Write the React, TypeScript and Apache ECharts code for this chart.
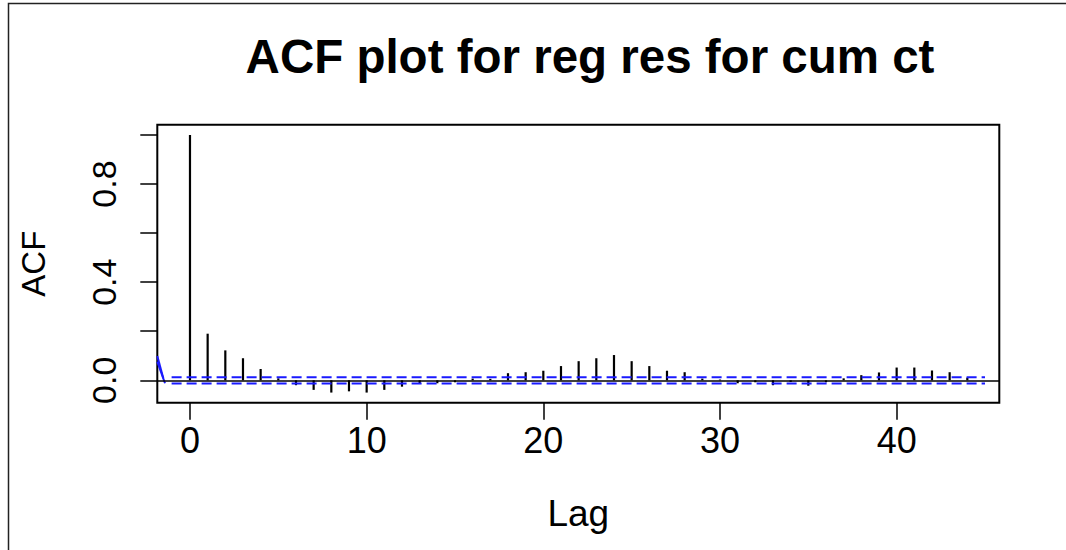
import React, { useEffect, useRef } from "react";
import * as echarts from "echarts";

const lags = [0, 1, 2, 3, 4, 5, 6, 7, 8, 9, 10, 11, 12, 13, 14, 15, 16, 17, 18, 19, 20, 21, 22, 23, 24, 25, 26, 27, 28, 29, 30, 31, 32, 33, 34, 35, 36, 37, 38, 39, 40, 41, 42, 43, 44];
const acfValues = [1.0, 0.19, 0.122, 0.09, 0.046, 0.008, -0.02, -0.039, -0.05, -0.045, -0.05, -0.039, -0.026, -0.015, -0.012, -0.008, 0.007, 0.006, 0.029, 0.033, 0.039, 0.058, 0.078, 0.09, 0.103, 0.078, 0.058, 0.039, 0.033, 0.007, 0.003, -0.012, -0.008, -0.02, -0.007, -0.022, -0.008, 0.008, 0.021, 0.032, 0.052, 0.052, 0.04, 0.033, 0.011];
const yTicks = [0, 0.2, 0.4, 0.6, 0.8, 1.0];
const yTickLabels = [0, 0.4, 0.8];
const xTicks = [0, 10, 20, 30, 40];
const ciUpper = 0.0128;
const ciLower = -0.0128;
const ciStart = -1.04;
const ciEnd = 45.0;
const strayUpper = [[-1.85, 0.099], [-1.51, 0.008]];
const strayLower = [[-1.85, 0.076], [-1.415, -0.012]];

const FONT = "'Liberation Sans', Arial, Helvetica, sans-serif";

export default function App() {
  const ref = useRef<HTMLDivElement>(null);
  useEffect(() => {
    if (!ref.current) return;
    const chart = echarts.init(ref.current, undefined, { renderer: "svg" });
    chart.setOption({
      animation: false,
      backgroundColor: "#ffffff",
      title: {
        text: "ACF plot for reg res for cum ct",
        left: 590,
        top: 32,
        textAlign: "center",
        padding: 0,
        textStyle: { fontFamily: FONT, fontWeight: "bold", fontSize: 47.5, color: "#000" },
      },
      graphic: [
        {
          type: "rect",
          shape: { x: 8.5, y: 3.5, width: 1200, height: 700 },
          style: { fill: "none", stroke: "#222", lineWidth: 1.5 },
          silent: true,
        },
      ],
      grid: {
        left: 157.3,
        top: 124.7,
        width: 842,
        height: 278,
        show: true,
        borderColor: "#000",
        borderWidth: 2,
        backgroundColor: "transparent",
      },
      xAxis: {
        type: "value",
        min: -1.85,
        max: 45.81,
        name: "Lag",
        nameLocation: "middle",
        nameGap: 92,
        nameTextStyle: { fontFamily: FONT, fontSize: 37, color: "#000" },
        axisLine: { show: false, onZero: false },
        splitLine: { show: false },
        axisTick: { show: true, length: 17, customValues: xTicks, lineStyle: { color: "#000", width: 1.5 } },
        axisLabel: {
          customValues: xTicks,
          margin: 20,
          fontFamily: FONT,
          fontSize: 36,
          color: "#000",
          formatter: (v: number) => String(v),
        },
      },
      yAxis: {
        type: "value",
        min: -0.0913,
        max: 1.042,
        name: "ACF",
        nameLocation: "middle",
        nameRotate: 90,
        nameGap: 107,
        nameTextStyle: { fontFamily: FONT, fontSize: 33, color: "#000" },
        axisLine: { show: false, onZero: false },
        splitLine: { show: false },
        axisTick: { show: true, length: 17, customValues: yTicks, lineStyle: { color: "#000", width: 1.5 } },
        axisLabel: {
          customValues: yTickLabels,
          rotate: 90,
          margin: 36,
          fontFamily: FONT,
          fontSize: 34,
          color: "#000",
          formatter: (v: number) => v.toFixed(1),
        },
      },
      series: [
        {
          type: "bar",
          data: lags.map((l, i) => [l, acfValues[i]]),
          barWidth: 2.2,
          itemStyle: { color: "#000" },
          silent: true,
          markLine: {
            silent: true,
            symbol: ["none", "none"],
            label: { show: false },
            lineStyle: { color: "#000", width: 1.5, type: "solid" },
            data: [{ yAxis: 0 }],
          },
        },
        {
          type: "line",
          data: [[ciStart, ciUpper], [ciEnd, ciUpper]],
          symbol: "none",
          lineStyle: { color: "#1a1aff", width: 2, type: [10, 5] },
          silent: true,
        },
        {
          type: "line",
          data: [[ciStart, ciLower], [ciEnd, ciLower]],
          symbol: "none",
          lineStyle: { color: "#1a1aff", width: 2, type: [10, 5] },
          silent: true,
        },
        {
          type: "line",
          data: strayUpper,
          symbol: "none",
          lineStyle: { color: "#1a1aff", width: 2 },
          silent: true,
        },
        {
          type: "line",
          data: strayLower,
          symbol: "none",
          lineStyle: { color: "#1a1aff", width: 2 },
          silent: true,
        },
      ],
    });
    return () => chart.dispose();
  }, []);
  return (
    <div
      ref={ref}
      style={{ position: "fixed", left: 0, top: 0, width: 1066, height: 550, background: "#fff" }}
    />
  );
}
